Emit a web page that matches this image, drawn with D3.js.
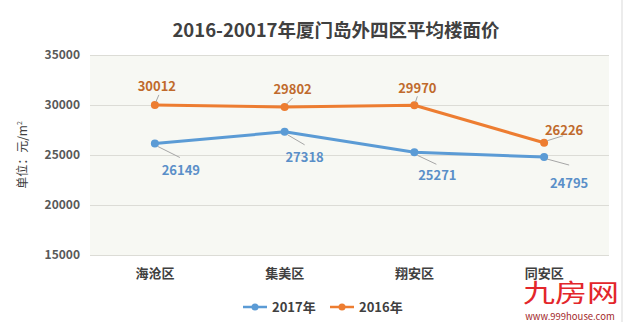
<!DOCTYPE html>
<html>
<head>
<meta charset="utf-8">
<script src="https://cdn.jsdelivr.net/npm/d3@7/dist/d3.min.js"></script>
<style>
  html, body { margin: 0; padding: 0; background: #fff; }
  svg { display: block; }
  text { font-family: "Noto Sans CJK SC", "Noto Sans", sans-serif; }
</style>
</head>
<body>
<svg id="chart" width="625" height="322"></svg>
<script>
// District names along the x axis
const districts = ["海沧区", "集美区", "翔安区", "同安区"];
// Average land price per m² for each year
const values2017 = [26149, 27318, 25271, 24795];
const values2016 = [30012, 29802, 29970, 26226];
// Y-axis ticks
const yTicks = [15000, 20000, 25000, 30000, 35000];
const seriesNames = ["2017年", "2016年"];

const svg = d3.select("#chart");
const W = 625, H = 322;
const plot = { left: 90, right: 609, top: 55, bottom: 255 };

const x = d3.scaleBand().domain(districts).range([plot.left, plot.right]);
const y = d3.scaleLinear().domain([15000, 35000]).range([plot.bottom, plot.top]);
const cx = d => x(d) + x.bandwidth() / 2;

// right frame line
svg.append("line").attr("x1", 622).attr("x2", 622).attr("y1", 0).attr("y2", H)
  .attr("stroke", "#d9d9d9").attr("stroke-width", 1);

// plot background
svg.append("rect").attr("x", plot.left).attr("y", plot.top)
  .attr("width", plot.right - plot.left).attr("height", plot.bottom - plot.top)
  .attr("fill", "#f7f8f3");

// title
svg.append("text").attr("x", 336).attr("y", 37).attr("text-anchor", "middle")
  .attr("font-size", 18.5).attr("font-weight", "bold").attr("fill", "#404040")
  .text("2016-20017年厦门岛外四区平均楼面价");

// y axis with gridlines
const yAxis = d3.axisLeft(y).tickValues(yTicks).tickFormat(d3.format("d"))
  .tickSize(-(plot.right - plot.left)).tickPadding(10);
const gy = svg.append("g").attr("transform", `translate(${plot.left},0)`).call(yAxis);
gy.select(".domain").remove();
gy.selectAll(".tick line").attr("stroke", "#dcdcd6").attr("stroke-width", 1);
gy.selectAll(".tick text").attr("font-size", 12).attr("font-weight", "bold")
  .attr("fill", "#595959").attr("font-family", "'Noto Sans', sans-serif");

// y axis title
svg.append("text").attr("transform", "translate(27,155) rotate(-90)")
  .attr("text-anchor", "middle").attr("font-size", 12).attr("fill", "#404040")
  .html('单位：元/m<tspan baseline-shift="super" font-size="7">2</tspan>');

// x axis labels
const xAxis = d3.axisBottom(x).tickSize(0).tickPadding(14);
const gx = svg.append("g").attr("transform", `translate(0,${plot.bottom})`).call(xAxis);
gx.select(".domain").remove();
gx.selectAll(".tick text").attr("font-size", 13).attr("font-weight", "bold").attr("fill", "#404040")
  .attr("font-family", "'Noto Sans CJK SC', sans-serif");

const colors = ["#5b9bd5", "#ed7d31"];
const labelColors = ["#5a8fc8", "#c06a2c"];
const line = d3.line().x((d, i) => cx(districts[i])).y(d => y(d));

[values2017, values2016].forEach((vals, s) => {
  svg.append("path").datum(vals).attr("d", line).attr("fill", "none")
    .attr("stroke", colors[s]).attr("stroke-width", 3).attr("stroke-linejoin", "round");
  svg.selectAll(null).data(vals).enter().append("circle")
    .attr("cx", (d, i) => cx(districts[i])).attr("cy", d => y(d)).attr("r", 4)
    .attr("fill", colors[s]);
});

// data labels with leader lines (offsets relative to the point)
const offs2017 = [[26, 26], [20, 25], [23, 23], [25, 26]];
const offs2016 = [[2, -19], [8, -18], [3, -17], [20, -13]];
function drawLabels(vals, offs, s, leader) {
  vals.forEach((v, i) => {
    const px = cx(districts[i]), py = y(v);
    const [dx, dy] = offs[i];
    const lx = px + dx, ly = py + dy;
    const l = leader[i];
    svg.append("line").attr("x1", px + l[0]).attr("y1", py + l[1])
      .attr("x2", px + l[2]).attr("y2", py + l[3])
      .attr("stroke", "#a6a6a6").attr("stroke-width", 1);
    svg.append("text").attr("x", lx).attr("y", ly + 5).attr("text-anchor", "middle")
      .attr("font-size", 13).attr("font-weight", "bold").attr("fill", labelColors[s])
      .attr("font-family", "'Noto Sans', sans-serif").text(v);
  });
}
drawLabels(values2017, offs2017, 0, [[3, 3, 25, 14], [3, 3, 20, 13], [3, 3, 22, 12], [3, 2, 25, 8]]);
drawLabels(values2016, offs2016, 1, [[1, -3, 4, -10], [2, -3, 8, -9], [1, -3, 3, -9], [3, -2, 19, -7]]);

// legend
const legend = svg.append("g");
const legendItems = [
  { name: seriesNames[0], c: colors[0], x0: 243 },
  { name: seriesNames[1], c: colors[1], x0: 330 }
];
legendItems.forEach(it => {
  legend.append("line").attr("x1", it.x0).attr("x2", it.x0 + 24).attr("y1", 307).attr("y2", 307)
    .attr("stroke", it.c).attr("stroke-width", 2.5);
  legend.append("circle").attr("cx", it.x0 + 12).attr("cy", 307).attr("r", 3.5).attr("fill", it.c);
  legend.append("text").attr("x", it.x0 + 29).attr("y", 312).attr("font-size", 13)
    .attr("font-weight", "bold").attr("fill", "#404040").text(it.name);
});

// site watermark
svg.append("text").attr("x", 571).attr("y", 302).attr("text-anchor", "middle")
  .attr("font-size", 25).attr("fill", "#e3262b").attr("textLength", 96)
  .attr("lengthAdjust", "spacingAndGlyphs").text("九房网");
svg.append("text").attr("x", 570).attr("y", 320).attr("text-anchor", "middle")
  .attr("font-size", 9.5).attr("fill", "#a3282a").attr("font-family", "'Noto Sans', sans-serif")
  .text("www.999house.com");
</script>
</body>
</html>
